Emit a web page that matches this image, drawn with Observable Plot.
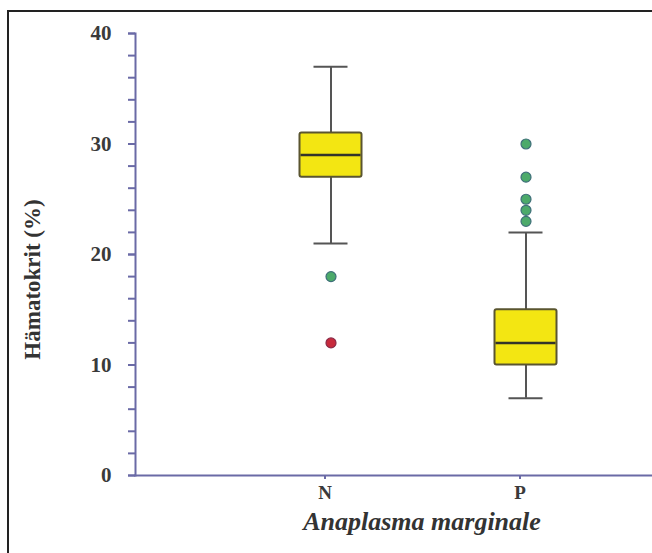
<!DOCTYPE html>
<html>
<head>
<meta charset="utf-8">
<script src="https://cdn.jsdelivr.net/npm/d3@7"></script>
<script src="https://cdn.jsdelivr.net/npm/@observablehq/plot@0.6"></script>
<style>
  html, body { margin: 0; padding: 0; background: #fff; }
  #wrap { position: relative; width: 652px; height: 553px; overflow: hidden; }
  #border { position: absolute; left: 7px; top: 10px; width: 700px; height: 600px;
            border-left: 2px solid #222; border-top: 2px solid #222; box-sizing: border-box; }
  #wrap svg { position: absolute; left: 0; top: 0; }
</style>
</head>
<body>
<div id="wrap"><div id="border"></div></div>
<script>
const categories = ["N", "P"];
const q1 = [27, 10];
const median = [29, 12];
const q3 = [31, 15];
const whiskerLow = [21, 7];
const whiskerHigh = [37, 22];
const outlierGroup = ["N", "N", "P", "P", "P", "P", "P"];
const outlierValue = [18, 12, 30, 27, 25, 24, 23];
const outlierKind = ["mild", "extreme", "mild", "mild", "mild", "mild", "mild"];
const majorTicks = [0, 10, 20, 30, 40];
const minorTicks = d3.range(0, 41, 2);

const boxes = categories.map((c, i) => ({
  cat: c, q1: q1[i], med: median[i], q3: q3[i], lo: whiskerLow[i], hi: whiskerHigh[i]
}));
const outliers = outlierValue.map((v, i) => ({cat: outlierGroup[i], v, kind: outlierKind[i]}));

const axisColor = "#6a6aa6";
const serif = "'Liberation Serif', 'DejaVu Serif', serif";

const chart = Plot.plot({
  width: 652,
  height: 553,
  marginLeft: 135,
  marginRight: 0,
  marginTop: 33,
  marginBottom: 78,
  style: {fontFamily: serif, background: "transparent"},
  x: {type: "band", domain: categories, range: [232.5, 622.5], padding: 0},
  y: {domain: [0, 40]},
  marks: [
    Plot.ruleX(boxes, {x: "cat", y1: "lo", y2: "q1", stroke: "#555", strokeWidth: 2}),
    Plot.ruleX(boxes, {x: "cat", y1: "q3", y2: "hi", stroke: "#555", strokeWidth: 2}),
    Plot.tickY(boxes, {x: "cat", y: "lo", stroke: "#555", strokeWidth: 2, insetLeft: 80.5, insetRight: 80.5}),
    Plot.tickY(boxes, {x: "cat", y: "hi", stroke: "#555", strokeWidth: 2, insetLeft: 80.5, insetRight: 80.5}),
    Plot.rectY(boxes, {x: "cat", y1: "q1", y2: "q3", fill: "#f3e612", stroke: "#5a5530", strokeWidth: 2, insetLeft: 66.5, insetRight: 66.5, rx: 2}),
    Plot.tickY(boxes, {x: "cat", y: "med", stroke: "#33332a", strokeWidth: 2.5, insetLeft: 67.5, insetRight: 67.5}),
    Plot.dot(outliers, {x: "cat", y: "v", r: 5,
      fill: d => d.kind === "extreme" ? "#c72a3c" : "#4caa6a",
      stroke: d => d.kind === "extreme" ? "#8a2a48" : "#3f6f7a", strokeWidth: 1.2}),
    Plot.axisY({ticks: minorTicks, tickFormat: null, text: null, tickSize: 7, stroke: axisColor, strokeWidth: 2, label: null}),
    Plot.axisY({ticks: majorTicks, tickSize: 7, tickPadding: 17, stroke: axisColor, strokeWidth: 2,
      fontSize: 21, fontWeight: "bold", fill: "#3a3a3a", label: null}),
    Plot.axisX({tickSize: 4, tickPadding: 6, stroke: axisColor, strokeWidth: 2, dx: -6,
      fontSize: 19, fontWeight: "bold", fill: "#3a3a3a", label: null}),
    Plot.frame({anchor: "left", stroke: axisColor, strokeWidth: 2}),
    Plot.frame({anchor: "bottom", stroke: axisColor, strokeWidth: 2}),
    Plot.text(["Hämatokrit (%)"], {frameAnchor: "left", dx: -103, dy: 25, rotate: -90,
      fontSize: 23, fontWeight: "bold", fill: "#333", textAnchor: "middle"}),
    Plot.text(["Anaplasma marginale"], {frameAnchor: "bottom", dx: 28, dy: 54,
      fontSize: 26, fontStyle: "italic", fontWeight: "bold", fill: "#333", textAnchor: "middle"})
  ]
});
document.getElementById("wrap").appendChild(chart);
</script>
</body>
</html>
